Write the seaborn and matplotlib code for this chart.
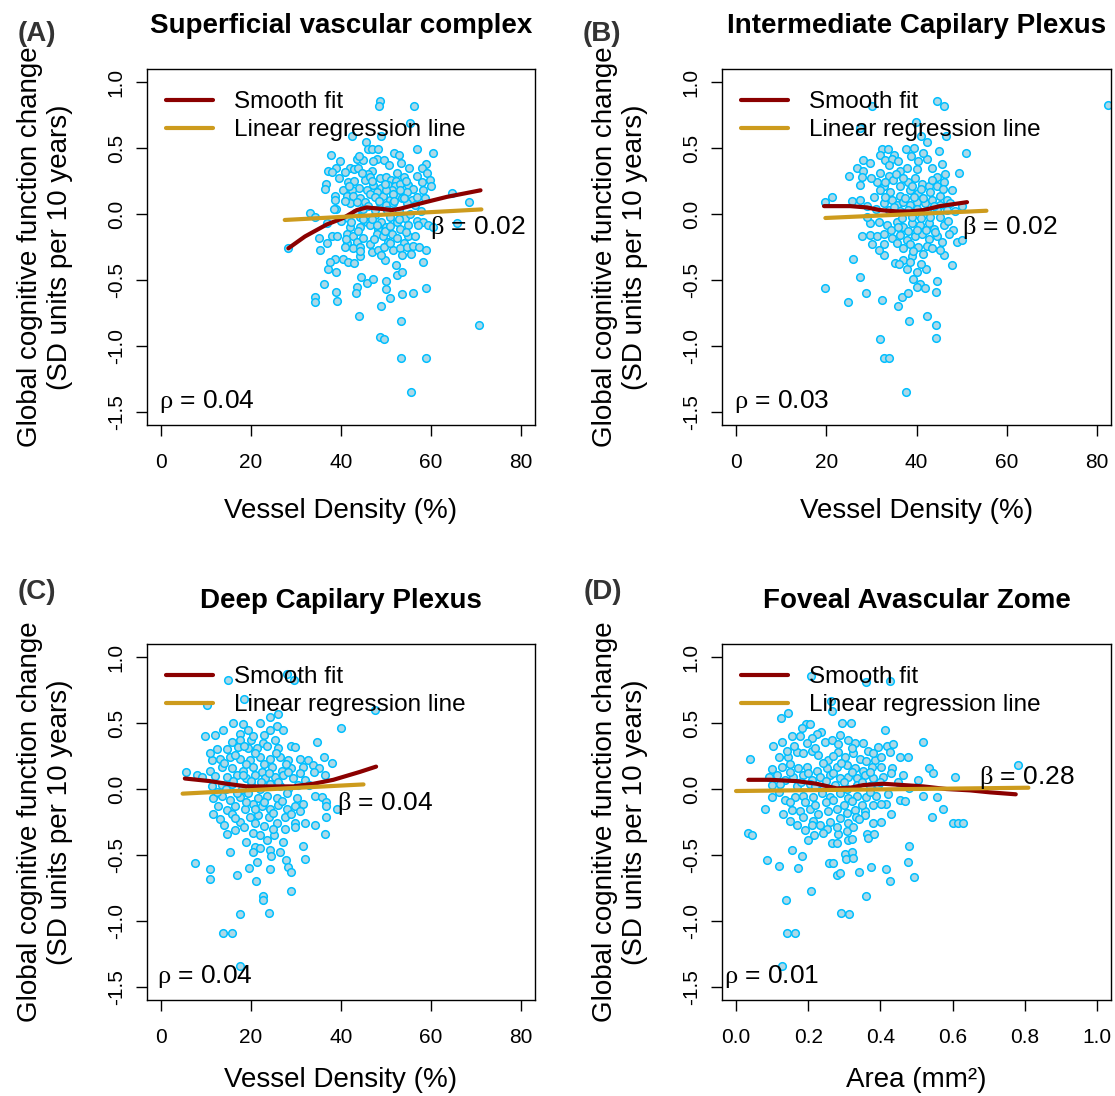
import matplotlib
matplotlib.use("Agg")
import matplotlib.pyplot as plt
import seaborn as sns
from matplotlib.lines import Line2D

# ---------------- data ----------------
titles = ["Superficial vascular complex", "Intermediate Capilary Plexus",
          "Deep Capilary Plexus", "Foveal Avascular Zome"]
panel_tags = ["(A)", "(B)", "(C)", "(D)"]
xlabels = ["Vessel Density (%)", "Vessel Density (%)", "Vessel Density (%)", "Area (mm²)"]
ylabel = "Global cognitive function change\n(SD units per 10 years)"
beta_text = ["0.02", "0.02", "0.04", "0.28"]
rho_text = ["0.04", "0.03", "0.04", "0.01"]
beta_pos_x = [70.5, 60.7, 49.8, 0.806]
beta_pos_y = [-0.10, -0.10, -0.11, 0.09]
rho_pos_x = [10.1, 10.1, 9.7, 0.099]
rho_pos_y = [-1.42, -1.42, -1.42, -1.42]
vd_ticks = [0, 20, 40, 60, 80]
area_ticks = [0.0, 0.2, 0.4, 0.6, 0.8, 1.0]
y_ticks = [-1.5, -1.0, -0.5, 0.0, 0.5, 1.0]

a_x = [48.7, 48.4, 56.3, 55.3, 42.4, 49.0, 45.6,
       45.9, 46.8, 48.3, 56.8, 51.8, 60.4, 37.7,
       43.5, 45.0, 39.8, 47.9, 49.6, 58.8, 53.3,
       39.0, 41.9, 43.0, 43.7, 37.2, 38.0, 46.8, 55.1, 58.1, 59.2, 40.9, 45.9, 52.4,
       48.7, 50.0, 51.1, 52.2, 53.9, 56.8, 59.8, 36.6, 41.6, 43.0, 44.0, 45.3, 47.2, 49.0, 50.5, 52.0,
       53.1, 55.0, 56.1, 57.9, 60.1, 40.5, 42.4, 36.4, 38.7, 45.7, 47.9, 51.3, 54.6, 58.3,
       41.4, 42.7, 44.2, 46.4, 47.6, 49.4, 50.9, 52.4, 53.5, 55.7, 56.8, 58.7, 42.0, 43.5, 45.3, 48.7,
       50.1, 51.6, 54.6, 56.4, 64.6, 68.5, 38.7, 39.0, 33.1,
       34.2, 36.8, 40.1, 41.6, 43.1, 44.2, 45.7, 47.6, 49.0, 50.9, 52.4, 54.2, 55.3, 56.8, 58.3, 59.4,
       60.5, 65.7, 42.0, 44.2, 46.4, 48.3, 50.1, 53.1, 55.0,
       35.2, 38.1, 39.2, 41.4, 42.7, 43.5, 45.0, 46.4, 47.9, 49.4, 50.5, 51.3, 52.4, 53.9, 55.0, 56.4,
       35.3, 36.8, 41.4,
       40.9, 42.6, 44.2, 46.8, 48.3, 49.6, 51.6, 53.1, 54.6, 56.1, 57.4, 59.0, 38.7, 40.5, 41.6, 42.9,
       44.2, 49.8, 52.2, 58.3, 53.5,
       37.2, 38.9, 44.4, 45.7, 47.2, 50.1, 50.1, 52.4, 53.5, 55.9, 58.9, 43.6, 43.3, 36.2, 39.2, 38.8,
       34.2, 34.2, 51.0, 53.5,
       49.0, 44.1, 53.3, 48.7, 49.6, 53.3, 58.9, 55.6, 70.7, 28.3, 38.5, 37.5]
a_y = [0.86, 0.82, 0.82, 0.69, 0.59, 0.59, 0.55,
       0.49, 0.49, 0.49, 0.49, 0.46, 0.46, 0.45,
       0.42, 0.41, 0.40, 0.42, 0.41, 0.38, 0.39,
       0.35, 0.35, 0.34, 0.35, 0.33, 0.32, 0.33, 0.35, 0.35, 0.31, 0.32, 0.30, 0.31,
       0.27, 0.28, 0.26, 0.25, 0.28, 0.29, 0.26, 0.23, 0.24, 0.25, 0.20, 0.26, 0.22, 0.20, 0.22, 0.21,
       0.23, 0.22, 0.19, 0.24, 0.21, 0.18, 0.18, 0.19, 0.14, 0.18, 0.17, 0.18, 0.17, 0.18,
       0.14, 0.14, 0.12, 0.15, 0.13, 0.14, 0.11, 0.14, 0.12, 0.11, 0.13, 0.12, 0.08, 0.09, 0.09, 0.08,
       0.07, 0.08, 0.08, 0.07, 0.16, 0.09, 0.11, 0.04, 0.01,
       -0.02, -0.07, -0.05, -0.03, 0.01, -0.02, -0.06, -0.01, -0.06, -0.02, -0.06, -0.03, 0.00, -0.05, -0.06, -0.08,
       -0.10, -0.07, -0.10, -0.10, -0.08, -0.11, -0.10, -0.11, -0.08,
       -0.18, -0.17, -0.17, -0.15, -0.17, -0.21, -0.18, -0.23, -0.15, -0.17, -0.21, -0.15, -0.18, -0.22, -0.17, -0.17,
       -0.27, -0.22, -0.22,
       -0.25, -0.26, -0.25, -0.29, -0.27, -0.25, -0.27, -0.26, -0.25, -0.24, -0.25, -0.27, -0.34, -0.34, -0.36, -0.37,
       -0.32, -0.35, -0.39, -0.36, -0.31,
       -0.42, -0.44, -0.48, -0.52, -0.49, -0.51, -0.57, -0.46, -0.44, -0.60, -0.56, -0.55, -0.60, -0.53, -0.66, -0.59,
       -0.63, -0.67, -0.64, -0.61,
       -0.70, -0.77, -0.81, -0.93, -0.95, -1.09, -1.09, -1.35, -0.84, -0.26, 0.04, -0.36]
# additional points of the dense core of panel A
a_core_x = [44.6, 46.4, 50.0, 53.1, 47.0, 49.8, 51.5, 44.9, 46.0, 47.5, 48.5, 50.2, 51.8, 53.0,
            54.0, 45.0, 46.8, 48.0, 49.8, 51.0, 52.8, 54.4, 43.8, 42.2, 40.8, 41.2, 44.2, 47.3,
            48.9, 50.8, 55.6, 57.2, 57.8, 41.8, 39.5, 50.6, 47.2, 52.9, 44.0, 54.5]
a_core_y = [0.31, 0.28, 0.18, 0.18, 0.25, 0.23, 0.15, 0.04, 0.06, 0.03, 0.10, 0.03, 0.10, 0.02,
            0.12, -0.04, -0.04, -0.08, -0.13, -0.09, -0.04, -0.14, -0.13, -0.06, 0.10, -0.19, -0.28, -0.19,
            -0.31, -0.22, -0.30, -0.08, 0.02, 0.21, 0.27, 0.37, 0.40, 0.45, 0.44, 0.25]

b_x = [44.5, 46.1, 30.2, 82.4, 42.3, 41.0, 46.5, 27.5, 39.8,
       32.3, 33.6, 37.7, 39.5, 44.9, 51.0, 31.9, 35.1, 28.2, 29.6, 33.1, 34.5, 42.3, 40.4, 45.6, 49.5,
       26.8, 28.1, 25.1, 27.9, 31.9, 33.8, 36.4, 37.9, 40.1, 43.4, 46.4, 44.5, 27.5, 31.2, 32.7, 34.9,
       36.4, 38.2, 39.7, 41.2, 42.7, 44.5, 46.0, 47.8, 31.9, 30.5, 34.2, 36.4, 38.6, 40.4, 43.0, 45.2, 46.7,
       19.7, 21.2, 25.7, 27.5, 29.0, 32.7, 34.5, 35.6, 37.1, 38.6, 40.1, 41.9, 43.4, 45.2, 47.5, 50.0,
       33.8, 36.4, 38.2, 40.1, 42.3, 44.5, 46.7,
       29.7, 31.6, 33.4, 35.6, 37.1, 39.0, 40.8, 42.7, 43.8, 46.0, 48.1, 27.9, 29.7, 31.2, 32.7, 34.5,
       36.4, 37.9, 39.7, 41.2, 42.7, 44.5, 45.6, 47.1, 48.9, 30.1, 32.7, 35.6, 38.6, 40.4, 42.3, 50.0,
       32.7, 35.3, 37.1, 39.0, 37.9, 40.1, 42.1, 39.3, 40.7, 40.1, 41.9, 44.5, 44.4, 47.8, 46.2, 45.2,
       25.9, 27.5, 31.6,
       19.7, 24.9, 28.8, 32.3, 35.8, 36.7, 38.2, 31.8, 38.4, 42.3, 44.4, 44.4, 32.8, 34.0, 37.7]
b_y = [0.86, 0.82, 0.82, 0.83, 0.55, 0.59, 0.59, 0.65, 0.70,
       0.49, 0.49, 0.49, 0.50, 0.48, 0.46, 0.45, 0.45, 0.41, 0.39, 0.41, 0.42, 0.42, 0.40, 0.38, 0.31,
       0.35, 0.33, 0.29, 0.28, 0.31, 0.29, 0.33, 0.35, 0.34, 0.35, 0.30, 0.28, 0.22, 0.24, 0.21, 0.26,
       0.21, 0.24, 0.27, 0.23, 0.21, 0.21, 0.24, 0.18, 0.18, 0.13, 0.17, 0.14, 0.18, 0.16, 0.17, 0.14, 0.11,
       0.09, 0.13, 0.10, 0.11, 0.06, 0.08, 0.11, 0.07, 0.09, 0.07, 0.09, 0.08, 0.11, 0.07, 0.08, 0.06,
       0.03, 0.02, 0.03, 0.04, 0.02, 0.03, 0.03,
       -0.07, -0.06, -0.08, -0.06, -0.10, -0.07, -0.08, -0.07, -0.11, -0.08, -0.12, -0.17, -0.16, -0.17, -0.15, -0.18,
       -0.16, -0.20, -0.17, -0.15, -0.19, -0.17, -0.21, -0.15, -0.21, -0.23, -0.23, -0.22, -0.23, -0.25, -0.24, -0.20,
       -0.31, -0.37, -0.35, -0.32, -0.42, -0.44, -0.42, -0.49, -0.53, -0.55, -0.56, -0.51, -0.59, -0.39, -0.31, -0.27,
       -0.34, -0.48, -0.27,
       -0.56, -0.67, -0.60, -0.65, -0.70, -0.63, -0.60, -0.95, -0.81, -0.77, -0.84, -0.94, -1.09, -1.09, -1.35]
b_core_x = [33.0, 35.5, 37.0, 39.0, 41.0, 43.5, 45.8, 33.0, 35.0, 37.5, 39.5, 41.5, 43.9, 36.8,
            38.9, 41.0, 43.0, 45.3, 34.3, 36.0, 38.2, 40.0, 42.0, 44.0, 37.0, 39.3, 41.5, 43.5,
            36.2, 38.5, 41.0, 34.0, 36.0, 38.8, 41.5, 30.0, 29.0, 31.0, 47.0, 48.5]
b_core_y = [0.24, 0.30, 0.27, 0.21, 0.19, 0.26, 0.19, 0.13, 0.05, 0.12, 0.13, 0.12, 0.06, -0.03,
            -0.02, -0.03, -0.02, -0.02, -0.12, -0.10, -0.13, -0.12, -0.12, -0.14, -0.26, -0.28, -0.30, -0.26,
            -0.38, -0.36, -0.38, 0.37, 0.40, 0.44, 0.46, 0.27, -0.02, 0.04, -0.05, 0.02]

c_x = [15.0, 28.0, 29.5, 10.2, 18.5, 24.2, 26.0, 40.0, 47.6,
       16.1, 18.3, 22.0, 13.8, 12.0, 9.8, 17.6, 19.4, 24.2, 25.7, 27.2, 25.3, 22.7, 20.1, 17.6, 15.7,
       12.4, 14.6, 17.2, 19.4, 21.3, 23.5, 26.1, 29.0, 29.8, 34.7,
       11.3, 13.1, 15.3, 17.6, 19.8, 22.0, 24.2, 26.4, 28.3, 30.9, 32.7, 36.3, 38.1,
       10.9, 13.5, 15.7, 18.3, 20.5, 22.4, 24.6, 26.8, 29.0, 31.6, 33.8, 35.1,
       5.6, 7.9, 9.0, 12.0, 14.6, 16.8, 19.0, 20.9, 23.1, 25.3, 27.2, 29.4, 32.0, 34.0, 36.4,
       11.3, 13.5, 15.7, 17.9, 20.1, 22.0, 24.2, 26.4, 28.3, 30.5,
       11.6, 13.5, 15.3, 17.6, 19.4, 21.6, 23.5, 25.7, 27.9, 30.2, 34.2, 35.7, 36.7, 39.2,
       12.7, 14.6, 16.4, 18.7, 20.5, 22.4, 24.2, 26.1, 27.9, 29.8, 31.6, 36.7,
       11.6, 13.1, 15.7, 17.6, 19.8, 21.6, 23.9, 25.7, 27.6, 29.8, 32.0, 34.2, 36.7,
       14.6, 16.4, 20.5, 22.0, 23.5, 25.2, 27.2, 29.8, 36.4,
       15.3, 20.9, 22.0, 24.2, 20.5, 21.3, 24.2, 27.8, 28.2, 28.9, 31.6, 32.1,
       7.6, 10.9, 10.9, 17.0, 19.6, 21.1, 28.9, 22.7, 22.7, 24.1, 17.5, 13.7, 15.7, 17.5]
c_y = [0.83, 0.87, 0.83, 0.64, 0.68, 0.55, 0.57, 0.46, 0.60,
       0.50, 0.49, 0.50, 0.45, 0.41, 0.40, 0.42, 0.45, 0.45, 0.48, 0.45, 0.37, 0.35, 0.37, 0.37, 0.36,
       0.30, 0.30, 0.32, 0.31, 0.31, 0.33, 0.31, 0.33, 0.32, 0.36,
       0.22, 0.23, 0.24, 0.23, 0.22, 0.24, 0.23, 0.24, 0.22, 0.23, 0.22, 0.24, 0.20,
       0.14, 0.17, 0.16, 0.14, 0.17, 0.13, 0.17, 0.14, 0.16, 0.17, 0.18, 0.16,
       0.13, 0.11, 0.09, 0.10, 0.09, 0.11, 0.08, 0.11, 0.08, 0.09, 0.11, 0.08, 0.07, 0.13, 0.11,
       0.02, 0.03, 0.04, 0.00, 0.03, 0.00, 0.04, 0.02, 0.00, 0.03,
       -0.07, -0.05, -0.08, -0.06, -0.03, -0.07, -0.05, -0.07, -0.03, -0.07, -0.05, -0.06, -0.10, -0.15,
       -0.13, -0.16, -0.13, -0.15, -0.11, -0.13, -0.15, -0.12, -0.15, -0.13, -0.11, -0.13,
       -0.19, -0.23, -0.19, -0.25, -0.21, -0.20, -0.21, -0.26, -0.21, -0.26, -0.26, -0.27, -0.21,
       -0.34, -0.31, -0.33, -0.35, -0.39, -0.35, -0.40, -0.29, -0.34,
       -0.48, -0.44, -0.45, -0.46, -0.48, -0.55, -0.61, -0.54, -0.59, -0.63, -0.43, -0.53,
       -0.56, -0.61, -0.68, -0.65, -0.60, -0.70, -0.77, -0.81, -0.84, -0.94, -0.95, -1.09, -1.09, -1.34]
c_core_x = [14.0, 16.5, 18.9, 21.0, 23.0, 25.5, 27.8, 16.0, 18.2, 19.9, 22.2, 24.0, 26.0, 28.3,
            30.8, 12.5, 14.5, 16.8, 19.0, 21.0, 23.0, 25.0, 27.0, 29.0, 31.0, 14.0, 16.5, 18.5,
            21.0, 23.0, 25.0, 27.5, 19.0, 24.5, 26.5, 20.5, 23.0, 18.5, 11.0, 33.0]
c_core_y = [0.20, 0.26, 0.19, 0.27, 0.19, 0.27, 0.19, 0.06, 0.11, 0.06, 0.05, 0.12, 0.05, 0.13,
            0.12, -0.02, 0.00, -0.03, -0.10, -0.15, -0.10, -0.18, -0.09, -0.19, -0.17, -0.27, -0.22, -0.29,
            -0.26, -0.28, -0.30, -0.30, -0.40, -0.51, -0.48, 0.40, 0.41, 0.33, 0.27, 0.03]

d_x = [0.207, 0.360, 0.427, 0.262, 0.266, 0.124, 0.143,
       0.194, 0.205, 0.413, 0.318, 0.293, 0.235, 0.225, 0.182, 0.154, 0.177, 0.210, 0.103, 0.126, 0.196,
       0.247, 0.265, 0.288, 0.283, 0.311, 0.330, 0.353, 0.394, 0.417, 0.436, 0.519,
       0.040, 0.120, 0.145, 0.168, 0.186, 0.210, 0.228, 0.256, 0.283, 0.302, 0.325, 0.343, 0.366, 0.385,
       0.403, 0.427, 0.454, 0.477,
       0.101, 0.126, 0.149, 0.173, 0.196, 0.223, 0.251, 0.279, 0.307, 0.330, 0.353, 0.376, 0.403, 0.431,
       0.462, 0.535, 0.545, 0.607,
       0.090, 0.113, 0.136, 0.159, 0.186, 0.210, 0.233, 0.260, 0.288, 0.311, 0.334, 0.357, 0.380, 0.408, 0.505,
       0.099, 0.122, 0.168, 0.205, 0.242, 0.274, 0.307, 0.334, 0.371, 0.394,
       0.099, 0.136, 0.163, 0.186, 0.214, 0.237, 0.260, 0.288, 0.311, 0.334, 0.360, 0.388, 0.415, 0.454,
       0.468, 0.517, 0.558,
       0.080, 0.131, 0.154, 0.177, 0.205, 0.228, 0.256, 0.279, 0.307, 0.330, 0.357, 0.380, 0.403, 0.574,
       0.149, 0.186, 0.212, 0.233, 0.260, 0.288, 0.311, 0.332, 0.357, 0.380, 0.403, 0.542, 0.600, 0.614, 0.628,
       0.191, 0.210, 0.251, 0.283, 0.307, 0.325, 0.362, 0.216, 0.198, 0.034, 0.043, 0.265, 0.281, 0.311,
       0.365, 0.383, 0.479,
       0.154, 0.184, 0.302, 0.320, 0.306, 0.325, 0.085, 0.119, 0.173, 0.257, 0.270, 0.279, 0.288, 0.342,
       0.373, 0.415, 0.427, 0.476, 0.494,
       0.208, 0.139, 0.360, 0.291, 0.312, 0.140, 0.164, 0.126, 0.780]
d_y = [0.86, 0.81, 0.82, 0.67, 0.59, 0.54, 0.58,
       0.49, 0.49, 0.45, 0.50, 0.50, 0.43, 0.42, 0.46, 0.40, 0.40, 0.39, 0.33, 0.36, 0.35,
       0.36, 0.37, 0.41, 0.34, 0.37, 0.35, 0.35, 0.32, 0.33, 0.34, 0.36,
       0.23, 0.24, 0.24, 0.28, 0.27, 0.29, 0.26, 0.22, 0.28, 0.24, 0.27, 0.23, 0.29, 0.22,
       0.24, 0.28, 0.24, 0.24,
       0.15, 0.17, 0.19, 0.16, 0.17, 0.14, 0.16, 0.17, 0.18, 0.16, 0.14, 0.17, 0.17, 0.16,
       0.11, 0.16, 0.12, 0.09,
       0.09, 0.11, 0.07, 0.09, 0.11, 0.07, 0.09, 0.11, 0.08, 0.09, 0.08, 0.11, 0.08, 0.09, 0.07,
       0.03, 0.04, 0.02, 0.04, 0.00, 0.03, 0.00, 0.03, 0.02, 0.03,
       -0.06, -0.08, -0.06, -0.05, -0.06, -0.03, -0.06, -0.03, -0.07, -0.05, -0.06, -0.05, -0.11, -0.08,
       -0.09, -0.05, -0.06,
       -0.15, -0.19, -0.16, -0.17, -0.15, -0.19, -0.17, -0.15, -0.18, -0.16, -0.17, -0.12, -0.11, -0.15,
       -0.24, -0.21, -0.24, -0.27, -0.25, -0.22, -0.26, -0.21, -0.20, -0.26, -0.25, -0.21, -0.26, -0.26, -0.26,
       -0.31, -0.27, -0.30, -0.34, -0.32, -0.29, -0.34, -0.35, -0.39, -0.33, -0.35, -0.41, -0.41, -0.39,
       -0.37, -0.34, -0.43,
       -0.46, -0.51, -0.49, -0.48, -0.53, -0.52, -0.54, -0.58, -0.60, -0.56, -0.56, -0.65, -0.64, -0.63,
       -0.59, -0.61, -0.70, -0.55, -0.67,
       -0.77, -0.84, -0.81, -0.94, -0.95, -1.09, -1.09, -1.34, 0.18]
d_core_x = [0.14, 0.16, 0.22, 0.24, 0.27, 0.29, 0.32, 0.36, 0.38, 0.15, 0.18, 0.20, 0.22, 0.25,
            0.27, 0.30, 0.32, 0.35, 0.37, 0.40, 0.43, 0.12, 0.15, 0.19, 0.22, 0.25, 0.27, 0.30,
            0.32, 0.35, 0.37, 0.42, 0.17, 0.24, 0.28, 0.32, 0.34, 0.43, 0.45, 0.48]
d_core_y = [0.29, 0.33, 0.31, 0.20, 0.25, 0.20, 0.31, 0.21, 0.27, 0.13, 0.05, 0.12, 0.02, 0.06,
            0.12, 0.05, 0.13, 0.05, 0.13, 0.05, 0.12, -0.02, -0.10, -0.10, -0.12, -0.10, -0.08, -0.12,
            -0.09, -0.12, -0.02, -0.04, -0.27, -0.33, -0.29, -0.38, -0.23, -0.19, 0.05, 0.01]

# smooth (loess-type) curves
a_smooth_x = [28.3, 32.0, 36.8, 40.5, 43.5, 45.7, 48.7, 51.3, 53.1, 57.6, 63.5, 71.0]
a_smooth_y = [-0.26, -0.17, -0.08, -0.03, 0.03, 0.05, 0.04, 0.03, 0.04, 0.08, 0.13, 0.18]
b_smooth_x = [19.5, 25.3, 29.0, 31.9, 35.6, 38.6, 41.5, 45.2, 51.2]
b_smooth_y = [0.06, 0.06, 0.05, 0.03, 0.02, 0.02, 0.03, 0.06, 0.09]
c_smooth_x = [5.3, 10.9, 14.6, 19.0, 23.5, 29.4, 33.9, 38.3, 44.2, 47.8]
c_smooth_y = [0.08, 0.06, 0.04, 0.02, 0.02, 0.02, 0.04, 0.07, 0.13, 0.17]
d_smooth_x = [0.034, 0.094, 0.168, 0.223, 0.279, 0.316, 0.353, 0.408, 0.464, 0.519, 0.583, 0.648, 0.703, 0.775]
d_smooth_y = [0.07, 0.07, 0.06, 0.04, 0.005, 0.01, 0.03, 0.04, 0.03, 0.02, 0.0, -0.01, -0.025, -0.04]

# linear regression lines (end points)
a_lin_x = [27.5, 71.2]
a_lin_y = [-0.045, 0.035]
b_lin_x = [19.8, 55.5]
b_lin_y = [-0.03, 0.025]
c_lin_x = [4.8, 45.0]
c_lin_y = [-0.035, 0.035]
d_lin_x = [0.0, 0.81]
d_lin_y = [-0.015, 0.01]

# ---------------- styling ----------------
sns.set_theme(style="white")
plt.rcParams["font.family"] = ["Liberation Sans", "DejaVu Sans"]
plt.rcParams["axes.unicode_minus"] = False
plt.rcParams["mathtext.fontset"] = "custom"
plt.rcParams["mathtext.it"] = "Liberation Serif"
plt.rcParams["mathtext.rm"] = "Liberation Serif"
plt.rcParams["text.color"] = "black"

PT_FILL = "#ADD8E6"
PT_EDGE = "#00BFFF"
SMOOTH_C = "#8B0000"
LIN_C = "#CD9B1D"

W, H = 1115, 1096
fig = plt.figure(figsize=(W / 100, H / 100), dpi=100)
fig.patch.set_facecolor("white")

# pixel boxes: left, top, right, bottom
boxes = [(146.6, 69, 535.4, 425), (721.6, 69, 1111.4, 425),
         (146.6, 644, 535.4, 1000), (721.6, 644, 1111.4, 1000)]
tag_pos = [(18, 41), (583, 41), (18, 599), (584, 599)]
xlabel_gap = [93, 93, 87, 87]

panels = [
    (a_x + a_core_x, a_y + a_core_y, a_smooth_x, a_smooth_y, a_lin_x, a_lin_y),
    (b_x + b_core_x, b_y + b_core_y, b_smooth_x, b_smooth_y, b_lin_x, b_lin_y),
    (c_x + c_core_x, c_y + c_core_y, c_smooth_x, c_smooth_y, c_lin_x, c_lin_y),
    (d_x + d_core_x, d_y + d_core_y, d_smooth_x, d_smooth_y, d_lin_x, d_lin_y),
]

for i, (px, py, sx, sy, lx, ly) in enumerate(panels):
    l, t, r, b = boxes[i]
    ax = fig.add_axes([l / W, 1 - b / H, (r - l) / W, (b - t) / H])
    ax.set_facecolor("white")

    sns.scatterplot(x=px, y=py, ax=ax, s=30, color=PT_FILL, edgecolor=PT_EDGE,
                    linewidth=1.1, legend=False, zorder=2)
    sns.lineplot(x=sx, y=sy, ax=ax, color=SMOOTH_C, linewidth=3.0, sort=False,
                 estimator=None, legend=False, zorder=3)
    sns.lineplot(x=lx, y=ly, ax=ax, color=LIN_C, linewidth=3.0, sort=False,
                 estimator=None, legend=False, zorder=4)

    if i < 3:
        ax.set_xlim(-3.2, 83.2)
        ax.set_xticks(vd_ticks)
        ax.set_xticklabels([str(v) for v in vd_ticks])
    else:
        ax.set_xlim(-0.04, 1.04)
        ax.set_xticks(area_ticks)
        ax.set_xticklabels([f"{v:.1f}" for v in area_ticks])
    ax.set_ylim(-1.6, 1.1)
    ax.set_yticks(y_ticks)
    ax.set_yticklabels([f"{v:.1f}" for v in y_ticks])
    ax.set_xlabel("")
    ax.set_ylabel("")

    for sp in ax.spines.values():
        sp.set_visible(True)
        sp.set_color("black")
        sp.set_linewidth(1.0)
    ax.tick_params(axis="both", which="major", direction="out", length=8, width=1.0,
                   color="black", labelsize=15, labelcolor="black",
                   bottom=True, left=True, top=False, right=False)
    ax.tick_params(axis="x", pad=12)
    ax.tick_params(axis="y", pad=7, labelrotation=90)
    for lab in ax.get_yticklabels():
        lab.set_va("center")

    handles = [Line2D([], [], color=SMOOTH_C, lw=3.0), Line2D([], [], color=LIN_C, lw=3.0)]
    ax.legend(handles, ["Smooth fit", "Linear regression line"], loc="upper left",
              bbox_to_anchor=(0.05, 1 - 22.0 / (b - t)), frameon=False, fontsize=17.5,
              handlelength=1.95, handletextpad=0.85, borderpad=0, borderaxespad=0,
              labelspacing=0.25, labelcolor="black")

    ax.text(beta_pos_x[i], beta_pos_y[i], r"$\beta$ = " + beta_text[i], ha="center",
            va="center", fontsize=19, color="black", zorder=5)
    ax.text(rho_pos_x[i], rho_pos_y[i], r"$\rho$ = " + rho_text[i], ha="center",
            va="center", fontsize=19, color="black", zorder=5)

    cx = (l + r) / 2
    cy = (t + b) / 2
    fig.text(cx / W, 1 - (t - 36) / H, titles[i], ha="center", va="baseline",
             fontsize=20, fontweight="bold", color="black")
    fig.text(tag_pos[i][0] / W, 1 - tag_pos[i][1] / H, panel_tags[i], ha="left",
             va="baseline", fontsize=20, fontweight="bold", color="#333333")
    fig.text((l - 102) / W, 1 - cy / H, ylabel, rotation=90, ha="center", va="center",
             fontsize=20, multialignment="center", linespacing=1.2, color="black")
    fig.text(cx / W, 1 - (b + xlabel_gap[i]) / H, xlabels[i], ha="center", va="baseline",
             fontsize=20, color="black")

fig.savefig("out.png", dpi=100, facecolor="white")
